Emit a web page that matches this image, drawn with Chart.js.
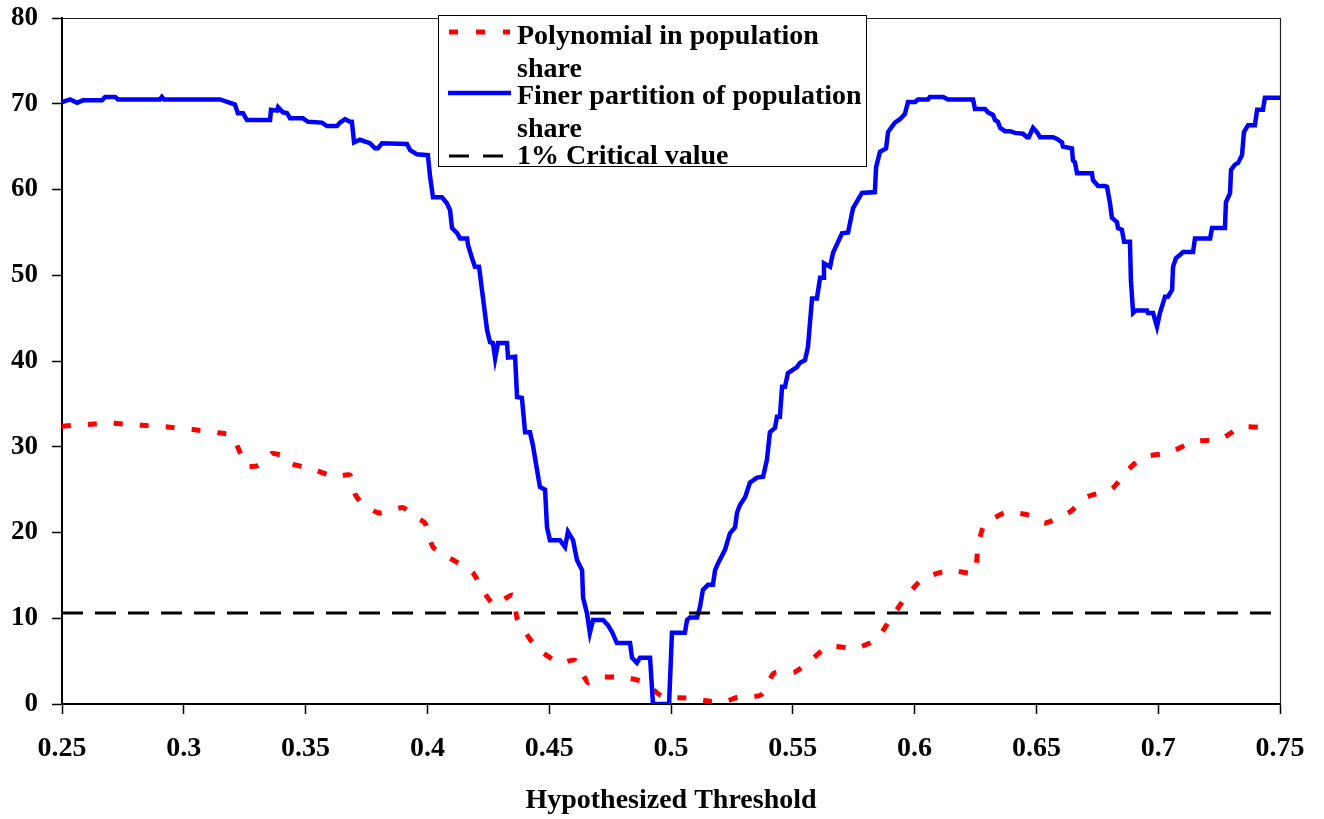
<!DOCTYPE html>
<html>
<head>
<meta charset="utf-8">
<script src="https://cdn.jsdelivr.net/npm/chart.js@4.4.1/dist/chart.umd.min.js"></script>
<style>
  html, body { margin: 0; padding: 0; background: #fff; }
  #wrap { position: relative; width: 1324px; height: 819px; overflow: hidden; }
  canvas { display: block; }
</style>
</head>
<body>
<div id="wrap"><canvas id="c" width="1324" height="819"></canvas></div>
<script>
// ---------------- data ----------------
const xTickLabels = ['0.25', '0.3', '0.35', '0.4', '0.45', '0.5', '0.55', '0.6', '0.65', '0.7', '0.75'];
const xMin = 0.25, xMax = 0.75;
const yMin = 0, yMax = 80, yStep = 10;

const seriesNames = ['Polynomial in population share', 'Finer partition of population share', '1% Critical value'];

// Finer partition of population share (step-like LR statistic)
const finerX = [0.25, 0.2533, 0.2562, 0.2586, 0.2664, 0.2677, 0.2718, 0.273, 0.2902, 0.291, 0.2919, 0.3149, 0.319, 0.321, 0.3222, 0.3243, 0.3259, 0.3354, 0.3358, 0.3383, 0.3387, 0.3407, 0.3424, 0.3436, 0.3489, 0.351, 0.3567, 0.3588, 0.3629, 0.3641, 0.3662, 0.3682, 0.369, 0.3699, 0.3723, 0.3764, 0.3785, 0.3797, 0.3814, 0.3916, 0.3929, 0.3957, 0.4002, 0.4011, 0.4023, 0.406, 0.408, 0.4093, 0.4101, 0.4122, 0.4134, 0.4163, 0.4167, 0.4183, 0.4195, 0.4212, 0.4245, 0.4257, 0.4269, 0.4278, 0.429, 0.4327, 0.4331, 0.436, 0.4368, 0.4388, 0.4401, 0.4421, 0.4433, 0.445, 0.4462, 0.4483, 0.4491, 0.4503, 0.4544, 0.4565, 0.4577, 0.4598, 0.4614, 0.4635, 0.4639, 0.4655, 0.4667, 0.468, 0.4721, 0.4741, 0.4758, 0.4778, 0.4832, 0.484, 0.486, 0.4873, 0.4914, 0.4926, 0.4992, 0.5004, 0.5057, 0.5066, 0.5078, 0.5107, 0.5119, 0.5131, 0.5152, 0.5172, 0.5181, 0.5193, 0.5222, 0.523, 0.5242, 0.5263, 0.5271, 0.5283, 0.5304, 0.5324, 0.5353, 0.5378, 0.5394, 0.5406, 0.5427, 0.5435, 0.5447, 0.5456, 0.5468, 0.548, 0.5517, 0.553, 0.555, 0.5562, 0.5579, 0.5599, 0.5612, 0.5624, 0.5628, 0.5653, 0.5665, 0.5702, 0.5727, 0.5747, 0.5784, 0.5837, 0.5842, 0.5858, 0.5883, 0.5891, 0.5919, 0.594, 0.596, 0.5973, 0.6002, 0.6014, 0.6055, 0.6063, 0.6117, 0.6137, 0.624, 0.6248, 0.6289, 0.6301, 0.6322, 0.633, 0.6342, 0.6351, 0.6371, 0.6392, 0.6412, 0.6445, 0.6461, 0.6469, 0.6486, 0.6502, 0.6515, 0.6568, 0.6585, 0.6605, 0.6609, 0.6646, 0.665, 0.6658, 0.6667, 0.6728, 0.6732, 0.6753, 0.6782, 0.679, 0.6802, 0.681, 0.6831, 0.6835, 0.6851, 0.686, 0.6884, 0.6888, 0.6897, 0.6909, 0.6954, 0.6958, 0.6979, 0.6995, 0.7007, 0.7028, 0.704, 0.7057, 0.7061, 0.7073, 0.709, 0.7102, 0.7143, 0.7151, 0.7213, 0.7221, 0.7274, 0.7278, 0.7295, 0.7299, 0.7315, 0.7328, 0.7344, 0.7352, 0.7369, 0.7397, 0.7406, 0.743, 0.7438, 0.75];
const finerY = [70.2, 70.5, 70.1, 70.4, 70.4, 70.8, 70.8, 70.5, 70.5, 70.8, 70.5, 70.5, 70.1, 69.9, 68.9, 68.9, 68.1, 68.1, 69.3, 69.2, 69.6, 69.0, 68.9, 68.3, 68.3, 67.9, 67.8, 67.4, 67.4, 67.8, 68.2, 67.9, 67.9, 65.5, 65.8, 65.4, 64.8, 64.8, 65.4, 65.3, 64.6, 64.1, 64.0, 61.5, 59.1, 59.1, 58.4, 57.6, 55.5, 54.9, 54.3, 54.3, 53.5, 52.0, 51.0, 51.0, 43.6, 42.2, 42.1, 40.3, 42.1, 42.1, 40.4, 40.5, 35.8, 35.7, 31.7, 31.7, 30.2, 27.3, 25.3, 25.0, 20.6, 19.1, 19.1, 18.3, 20.1, 19.1, 16.8, 15.6, 12.4, 10.6, 8.3, 9.8, 9.8, 9.2, 8.4, 7.1, 7.1, 5.4, 4.8, 5.4, 5.4, 0, 0, 8.3, 8.3, 9.8, 10.1, 10.1, 11.3, 13.3, 13.9, 13.9, 15.6, 16.4, 18.0, 18.8, 19.9, 20.6, 22.3, 23.2, 24.1, 25.8, 26.4, 26.5, 28.5, 31.7, 32.2, 33.5, 33.5, 37.0, 37.0, 38.6, 39.3, 39.8, 40.1, 41.6, 47.3, 47.3, 49.7, 49.7, 51.4, 51.0, 52.6, 54.9, 55.0, 57.8, 59.6, 59.7, 62.6, 64.4, 64.8, 66.7, 67.8, 68.2, 68.8, 70.2, 70.2, 70.5, 70.5, 70.8, 70.8, 70.5, 70.5, 69.4, 69.4, 69.0, 68.7, 68.1, 67.9, 67.2, 66.8, 66.8, 66.6, 66.5, 66.1, 66.1, 67.2, 66.7, 66.1, 66.1, 65.9, 65.5, 65.0, 64.8, 63.4, 63.2, 61.9, 61.9, 61.1, 60.4, 60.4, 60.3, 58.4, 56.7, 56.2, 55.5, 55.3, 53.9, 53.9, 49.4, 45.6, 45.9, 45.9, 45.6, 45.6, 44.0, 45.6, 47.5, 47.5, 48.3, 51.0, 52.0, 52.4, 52.7, 52.7, 54.3, 54.3, 55.5, 55.5, 58.5, 59.6, 62.3, 62.9, 63.1, 64.0, 66.7, 67.5, 67.5, 69.3, 69.3, 70.7, 70.7];

// Polynomial in population share
const polyX = [0.25, 0.2607, 0.2709, 0.2726, 0.2828, 0.2935, 0.3038, 0.3149, 0.3198, 0.3227, 0.3255, 0.3305, 0.3342, 0.3362, 0.3424, 0.3444, 0.3518, 0.3621, 0.3682, 0.3703, 0.3732, 0.3797, 0.3846, 0.39, 0.3949, 0.399, 0.4023, 0.4093, 0.4134, 0.4187, 0.4245, 0.4278, 0.4319, 0.4351, 0.4368, 0.4401, 0.4454, 0.4544, 0.4606, 0.4659, 0.47, 0.4811, 0.4893, 0.4963, 0.5066, 0.5168, 0.5222, 0.5275, 0.5369, 0.5423, 0.5505, 0.5567, 0.5644, 0.5755, 0.5842, 0.5903, 0.5965, 0.6034, 0.6145, 0.6244, 0.626, 0.6285, 0.6371, 0.6474, 0.6535, 0.6638, 0.6704, 0.681, 0.688, 0.6938, 0.7044, 0.7147, 0.7258, 0.734, 0.7451];
const polyY = [32.4, 32.6, 32.8, 32.7, 32.5, 32.3, 32.0, 31.6, 31.3, 29.6, 27.8, 27.8, 28.6, 29.2, 28.8, 28.0, 27.5, 26.5, 26.7, 24.5, 23.4, 22.3, 22.5, 22.9, 21.8, 21.1, 18.3, 17.0, 16.3, 15.3, 12.5, 11.5, 12.3, 12.7, 10.0, 8.4, 6.4, 4.8, 5.1, 2.5, 3.1, 3.1, 2.5, 0.9, 0.7, 0.3, 0.3, 0.8, 1.05, 3.6, 3.7, 4.9, 6.7, 6.5, 7.5, 10.0, 12.5, 14.6, 15.6, 15.3, 18.2, 20.8, 22.3, 22.0, 21.1, 22.4, 24.1, 25.1, 27.4, 28.8, 29.3, 30.6, 30.9, 32.3, 32.2];

// 1% critical value
const criticalValue = 10.6;

const axisTitleX = 'Hypothesized Threshold';
const legendLines = [['Polynomial in population', 'share'], ['Finer partition of population', 'share'], ['1% Critical value']];

// ---------------- chart ----------------
const FONT = '"Liberation Serif", "Times New Roman", serif';
const toPts = (xs, ys) => xs.map((x, i) => ({ x: x, y: ys[i] }));

const frameAndLegend = {
  id: 'frameAndLegend',
  afterDatasetsDraw(chart) {
    const ctx = chart.ctx;
    const a = chart.chartArea;
    ctx.save();
    // thin top & right border of plot frame
    ctx.strokeStyle = '#222';
    ctx.lineWidth = 1.2;
    ctx.beginPath();
    ctx.moveTo(a.left, a.top + 0.5);
    ctx.lineTo(a.right + 0.5, a.top + 0.5);
    ctx.lineTo(a.right + 0.5, a.bottom);
    ctx.stroke();

    // legend box
    const bx = 438.5, by = 15.5, bw = 428, bh = 151;
    ctx.fillStyle = '#fff';
    ctx.fillRect(bx, by, bw, bh);
    ctx.strokeStyle = '#000';
    ctx.lineWidth = 1;
    ctx.strokeRect(bx, by, bw, bh);

    // samples
    ctx.lineCap = 'butt';
    ctx.strokeStyle = '#ff0000';
    ctx.lineWidth = 5;
    [[449, 458], [476, 485], [503, 510]].forEach(s => {
      ctx.beginPath(); ctx.moveTo(s[0], 32); ctx.lineTo(s[1], 32); ctx.stroke();
    });
    ctx.strokeStyle = '#0000ff';
    ctx.lineWidth = 4.5;
    ctx.beginPath(); ctx.moveTo(448, 93); ctx.lineTo(511, 93); ctx.stroke();
    ctx.strokeStyle = '#000';
    ctx.lineWidth = 3;
    [[449, 469], [483, 503]].forEach(s => {
      ctx.beginPath(); ctx.moveTo(s[0], 156); ctx.lineTo(s[1], 156); ctx.stroke();
    });

    // text
    ctx.fillStyle = '#000';
    ctx.font = 'bold 28px ' + FONT;
    ctx.textAlign = 'left';
    ctx.textBaseline = 'alphabetic';
    const baselines = [[44, 77], [104, 137], [164]];
    legendLines.forEach((lines, i) => {
      lines.forEach((t, j) => ctx.fillText(t, 517, baselines[i][j]));
    });
    ctx.restore();
  }
};

new Chart(document.getElementById('c'), {
  type: 'line',
  data: {
    datasets: [
      {
        label: seriesNames[2],
        data: [{ x: xMin, y: criticalValue }, { x: xMax, y: criticalValue }],
        borderColor: '#000',
        borderWidth: 3,
        borderDash: [21, 12],
        pointRadius: 0,
        fill: false
      },
      {
        label: seriesNames[1],
        data: toPts(finerX, finerY),
        borderColor: '#0000ff',
        borderWidth: 4.5,
        pointRadius: 0,
        tension: 0,
        fill: false
      },
      {
        label: seriesNames[0],
        data: toPts(polyX, polyY),
        borderColor: '#ff0000',
        borderWidth: 5,
        borderDash: [9, 17],
        borderCapStyle: 'butt',
        pointRadius: 0,
        tension: 0.2,
        fill: false
      }
    ]
  },
  options: {
    responsive: false,
    animation: false,
    devicePixelRatio: 1,
    layout: { padding: { left: 0, right: 44, top: 18, bottom: 0 } },
    plugins: {
      legend: { display: false },
      tooltip: { enabled: false },
      title: { display: false }
    },
    scales: {
      x: {
        type: 'linear',
        min: xMin,
        max: xMax,
        afterFit(s) { s.height = 115; s.paddingLeft = 0; s.paddingRight = 0; },
        afterBuildTicks(s) {
          s.ticks = xTickLabels.map(v => ({ value: parseFloat(v) }));
        },
        ticks: {
          autoSkip: false,
          maxRotation: 0,
          padding: 18,
          color: '#000',
          font: { family: FONT, size: 28, weight: 'bold' },
          callback: (v) => {
            const i = Math.round((v - xMin) / 0.05);
            return xTickLabels[i];
          }
        },
        grid: { display: true, drawOnChartArea: false, drawTicks: true, tickLength: 10, color: '#000', tickWidth: 1.5 },
        border: { display: true, color: '#000', width: 2 },
        title: {
          display: true,
          text: axisTitleX,
          color: '#000',
          font: { family: FONT, size: 28, weight: 'bold' },
          padding: { top: 0, bottom: 1 }
        }
      },
      y: {
        min: yMin,
        max: yMax,
        afterFit(s) { s.width = 62; s.paddingTop = 0; s.paddingBottom = 0; },
        ticks: {
          stepSize: yStep,
          padding: 14,
          color: '#000',
          font: { family: FONT, size: 27, weight: 'bold' }
        },
        grid: { display: true, drawOnChartArea: false, drawTicks: true, tickLength: 10, color: '#000', tickWidth: 1.5 },
        border: { display: true, color: '#000', width: 2 }
      }
    }
  },
  plugins: [frameAndLegend]
});
</script>
</body>
</html>
